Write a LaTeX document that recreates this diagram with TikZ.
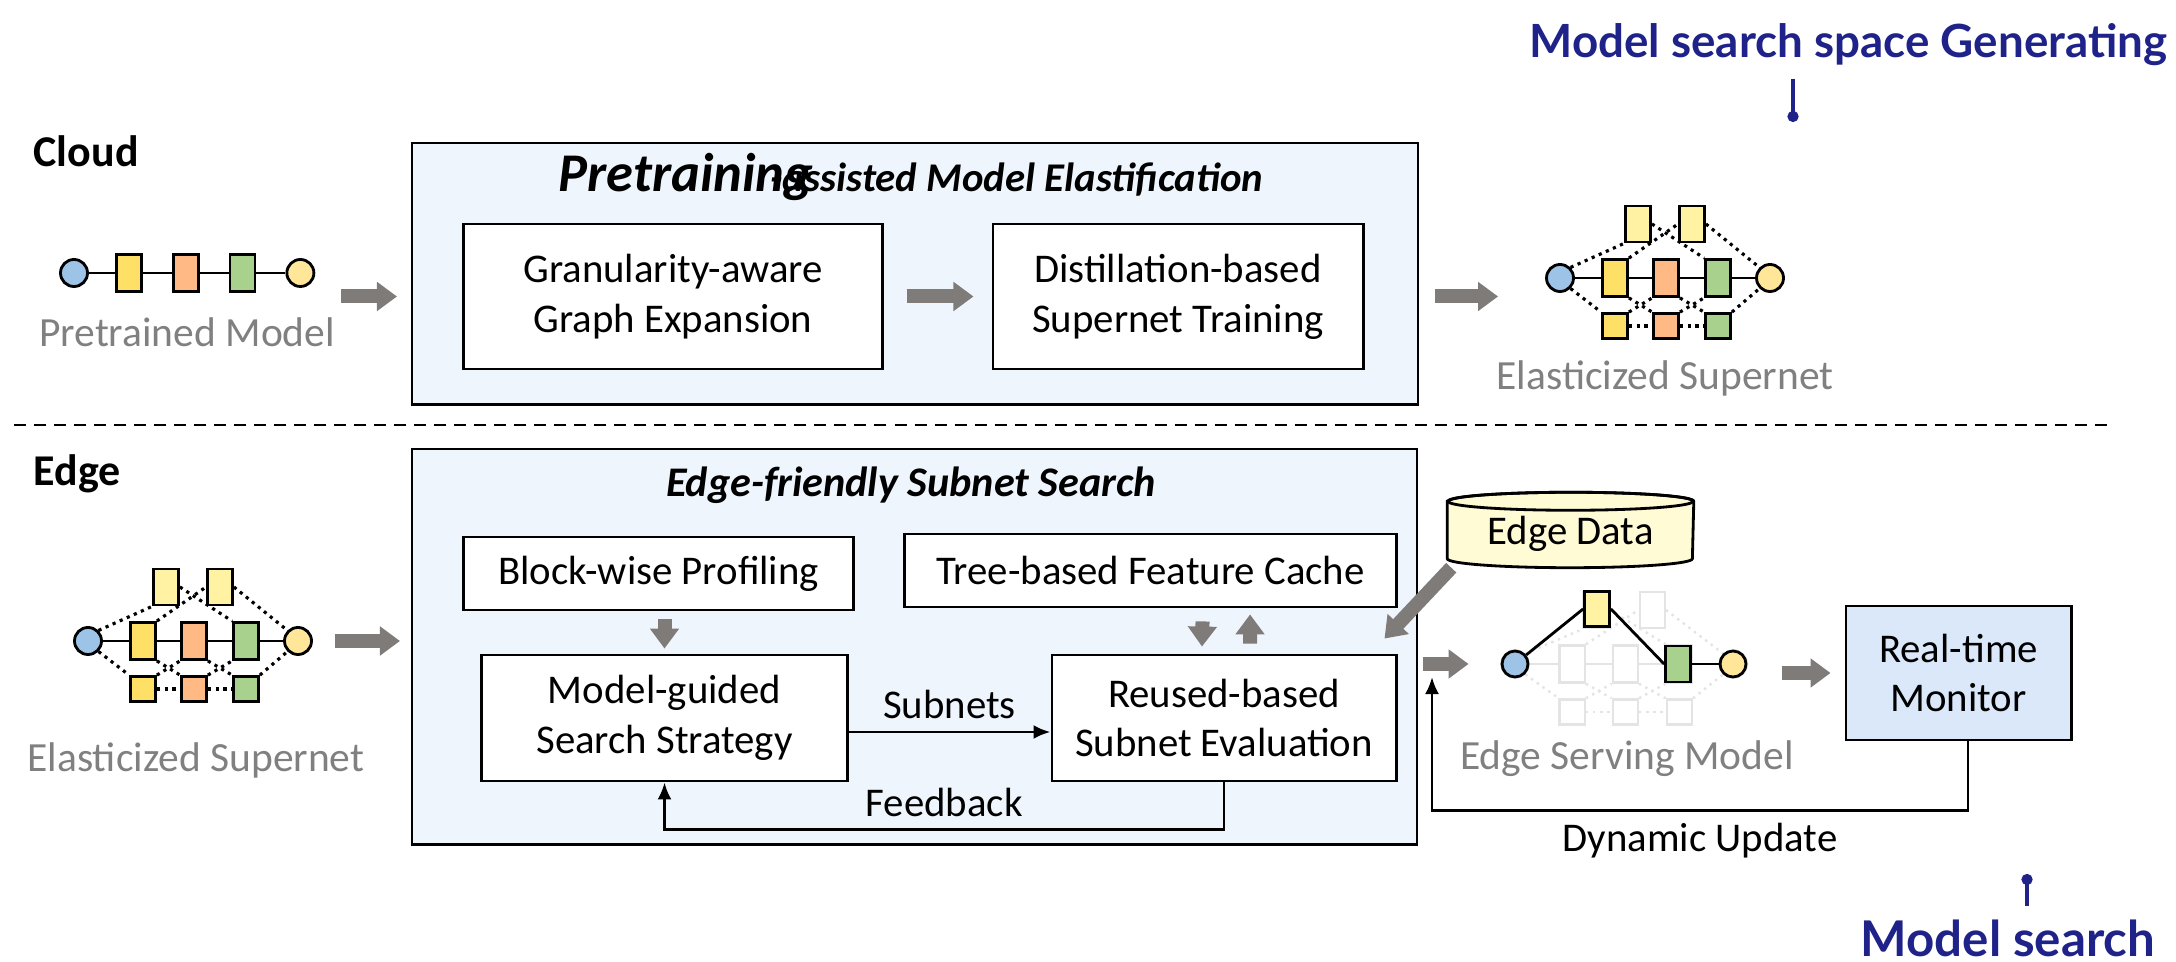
\documentclass[tikz,border=0pt]{standalone}
\usepackage{fontspec}
\setmainfont{Carlito}
\newfontfamily\latofont{Lato}
\usetikzlibrary{arrows.meta, positioning, backgrounds}

\definecolor{boxblue}{HTML}{EEF5FD}
\definecolor{monblue}{HTML}{DAE8FA}
\definecolor{arrgray}{HTML}{7F7B79}
\definecolor{txtgray}{HTML}{808080}
\definecolor{navy}{HTML}{1F2289}
\definecolor{cream}{HTML}{FFFBD5}
\definecolor{nblue}{HTML}{9DC3E6}
\definecolor{nyel}{HTML}{FFE066}
\definecolor{nlyel}{HTML}{FFF2A3}
\definecolor{nora}{HTML}{FFB984}
\definecolor{ngrn}{HTML}{A9D18E}
\definecolor{ncirc}{HTML}{FFE699}
\definecolor{faint}{HTML}{E4E4E4}

\newcommand{\modfont}{\fontsize{11.6}{14.2}\selectfont}
\newcommand{\grayfont}{\fontsize{11.8}{14}\selectfont}
\newcommand{\ttlfont}{\fontsize{12}{14}\selectfont\bfseries\itshape}
\newcommand{\secfont}{\fontsize{12.5}{15}\selectfont\bfseries}
\newcommand{\navyfont}{\fontsize{13}{15}\selectfont\latofont\bfseries}
\newcommand{\navybig}{\fontsize{14}{16}\selectfont\latofont\bfseries}

% supernet: prefix, x, y, extra options
\newcommand{\supnet}[4]{%
  \begin{scope}[shift={(#2,#3)}, #4]
    \node[incirc] (#1in) at (0,0) {};
    \node[yelblk] (#1m1) at (55,0) {};
    \node[orablk] (#1m2) at (106,0) {};
    \node[grnblk] (#1m3) at (158,0) {};
    \node[outcirc] (#1out) at (210,0) {};
    \node[lyelblk] (#1t1) at (78,-54) {};
    \node[lyelblk] (#1t2) at (132,-54) {};
    \node[yelsml] (#1b1) at (55,48) {};
    \node[orasml] (#1b2) at (106,48) {};
    \node[grnsml] (#1b3) at (158,48) {};
    \draw[snline] (#1in) -- (#1m1) -- (#1m2) -- (#1m3) -- (#1out);
    \draw[sndots] (#1in.north east) -- (#1t1.south west);
    \draw[sndots] (#1in.south east) -- (#1b1.north west);
    \draw[sndots] (#1t1.east) -- (#1m3.north west);
    \draw[sndots] (#1m1.north east) -- (#1t2.west);
    \draw[sndots] (#1t2.east) -- (#1out.north west);
    \draw[sndots] (#1m1.south east) -- (#1b2.north west);
    \draw[sndots] (#1b1.north east) -- (#1m2.south west);
    \draw[sndots] (#1m2.south east) -- (#1b3.north west);
    \draw[sndots] (#1b2.north east) -- (#1m3.south west);
    \draw[sndots] (#1b1) -- (#1b2);
    \draw[sndots] (#1b2) -- (#1b3);
    \draw[sndots] (#1b3.north east) -- (#1out.south west);
  \end{scope}}

\begin{document}
\begin{tikzpicture}[x=0.01cm, y=-0.01cm,
    snblk/.style={draw, line width=0.8pt, inner sep=0pt, minimum width=0.25cm, minimum height=0.37cm},
    snsmall/.style={snblk, minimum height=0.25cm},
    yelblk/.style={snblk, fill=nyel},
    orablk/.style={snblk, fill=nora},
    grnblk/.style={snblk, fill=ngrn},
    lyelblk/.style={snblk, fill=nlyel, minimum height=0.36cm},
    yelsml/.style={snsmall, fill=nyel},
    orasml/.style={snsmall, fill=nora},
    grnsml/.style={snsmall, fill=ngrn},
    incirc/.style={circle, draw, line width=0.8pt, inner sep=0pt, minimum size=0.27cm, fill=nblue},
    outcirc/.style={incirc, fill=ncirc},
    snline/.style={line width=0.8pt},
    sndots/.style={line width=0.9pt, dash pattern=on 0.9pt off 1.3pt},
    faintnet/.style={
      snblk/.style={draw=faint, fill=white, line width=0.7pt, inner sep=0pt, minimum width=0.25cm, minimum height=0.37cm},
      snsmall/.style={snblk, minimum height=0.25cm},
      yelblk/.style={snblk}, orablk/.style={snblk}, grnblk/.style={snblk},
      lyelblk/.style={snblk, minimum height=0.36cm},
      yelsml/.style={snsmall}, orasml/.style={snsmall}, grnsml/.style={snsmall},
      incirc/.style={circle, draw=faint, fill=white, line width=0.7pt, inner sep=0pt, minimum size=0.27cm},
      outcirc/.style={incirc},
      snline/.style={draw=faint, line width=0.7pt},
      sndots/.style={draw=faint, line width=0.7pt, dash pattern=on 0.7pt off 1.3pt}},
    outerbox/.style={draw, line width=0.7pt, fill=boxblue, inner sep=0pt, anchor=north west},
    modbox/.style={draw, line width=0.8pt, fill=white, align=center, inner sep=0pt, font=\modfont},
    bigarrow/.style={draw=arrgray, line width=0.14cm, -{Triangle[length=0.2cm, width=0.28cm]}},
    arr/.style={line width=0.8pt, -{Latex[length=0.17cm, width=0.14cm]}},
    graytext/.style={text=txtgray, font=\grayfont, inner sep=0pt, anchor=base},
    titletext/.style={font=\ttlfont, inner sep=0pt},
    secttext/.style={font=\secfont, inner sep=0pt, anchor=base west},
    bluetext/.style={text=navy, font=\navyfont, inner sep=0pt},
    tick/.style={draw=navy, line width=1.1pt, -{Circle[length=0.11cm]}},
    divider/.style={line width=0.7pt, dash pattern=on 0.12cm off 0.08cm}]
    \useasboundingbox (0,0) rectangle (2176,962);

    % stage labels
    \node[bluetext, anchor=base east] (gentext) at (2168,58) {Model search space Generating};
    \coordinate (gentick) at (1793,122);
    \draw[tick] ([yshift=-0.12cm]gentext.south -| gentick) -- (gentick);

    % cloud side
    \node[secttext] (cloud) at (33,167) {Cloud};
    \node[outerbox, minimum width=10.05cm, minimum height=2.61cm] (cloudbox) at (411,142) {};
    \node[titletext, anchor=base west] (cloudtitle) at (558,192) {{\fontsize{15.5}{18}\selectfont Pretraining}\fontsize{11.6}{14}\selectfont\kern-1.05em-assisted Model Elastification};
    \node[modbox, minimum width=4.18cm, minimum height=1.45cm] (gra) at (673,296.5) {Granularity-aware\\Graph Expansion};
    \node[modbox, minimum width=3.70cm, minimum height=1.45cm] (dis) at (1178,296.5) {Distillation-based\\Supernet Training};
    \draw[bigarrow] ([xshift=0.23cm]gra.east) -- ([xshift=-0.18cm]dis.west);

    % pretrained model
    \node[incirc] (pin) at (74,273) {};
    \node[yelblk, right=0.26cm of pin] (p1) {};
    \node[orablk, right=0.29cm of p1] (p2) {};
    \node[grnblk, right=0.29cm of p2] (p3) {};
    \node[outcirc, right=0.29cm of p3] (pout) {};
    \draw[snline] (pin) -- (p1) -- (p2) -- (p3) -- (pout);
    \node[graytext] (ptext) at (187,347) {Pretrained Model};
    \draw[bigarrow] ([xshift=0.26cm]pout.east |- gra.center) -- ([xshift=-0.14cm]cloudbox.west |- gra.center);

    % elasticized supernet (cloud)
    \supnet{s}{1560}{278}{}
    \node[graytext] (stext) at (1665,390) {Elasticized Supernet};
    \draw[bigarrow] ([xshift=0.16cm]cloudbox.east |- gra.center) -- ([xshift=-0.47cm]sin.west |- gra.center);

    \coordinate (divl) at (14,425);
    \coordinate (divr) at (2110,425);
    \draw[divider] (divl) -- (divr);

    % edge side
    \node[secttext] (edge) at (33,486) {Edge};
    \supnet{e}{88}{641}{}
    \node[graytext] (etext) at (196,772) {Elasticized Supernet};
    \node[outerbox, minimum width=10.04cm, minimum height=3.95cm] (edgebox) at (411,448) {};
    \draw[bigarrow] ([xshift=0.22cm]eout.east) -- ([xshift=-0.11cm]edgebox.west |- eout.east);

    \node[titletext, anchor=base] (edgetitle) at (911,497) {Edge-friendly Subnet Search};
    \node[modbox, minimum width=3.89cm, minimum height=0.73cm] (blk) at (658.5,573.5) {Block-wise Profiling};
    \node[modbox, minimum width=4.91cm, minimum height=0.73cm] (tree) at (1150.5,570.5) {Tree-based Feature Cache};
    \node[modbox, minimum width=3.65cm, minimum height=1.26cm] (mgs) at (664.5,718) {Model-guided\\Search Strategy};
    \node[modbox, minimum width=3.44cm, minimum height=1.26cm] (rse) at (1224,718) {Reused-based\\Subnet Evaluation};

    \draw[bigarrow] ([yshift=-0.08cm]blk.south -| mgs.north) -- ([yshift=0.05cm]mgs.north);
    \draw[bigarrow] ([xshift=0.52cm, yshift=-0.13cm]tree.south) -- ([xshift=-0.22cm, yshift=0.07cm]rse.north);
    \draw[bigarrow] ([xshift=0.26cm, yshift=0.10cm]rse.north) -- ([xshift=0.995cm, yshift=-0.06cm]tree.south);
    \draw[arr] ([yshift=-0.14cm]mgs.east) -- node[above, font=\modfont] (subn) {Subnets} ([yshift=-0.14cm]rse.west);
    \draw[arr] (rse.south) -- ++(0,47) -| node[pos=0.25, above, font=\modfont] (fbk) {Feedback} (mgs.south);

    % edge data
    \node[minimum width=2.45cm, minimum height=0.74cm, inner sep=0pt, text height=1.05em, font=\modfont] (edata) at (1570.5,530) {Edge Data};
    \begin{scope}[on background layer]
      \draw[line width=0.8pt, fill=cream] ([yshift=-0.09cm]edata.north west) -- ([yshift=0.09cm]edata.south west)
        arc[start angle=180, end angle=360, x radius=1.225cm, y radius=0.09cm]
        -- ([yshift=-0.09cm]edata.north east)
        arc[start angle=0, end angle=180, x radius=1.225cm, y radius=0.09cm] -- cycle;
      \draw[line width=0.8pt] ([yshift=-0.09cm]edata.north) ellipse[x radius=1.225cm, y radius=0.09cm];
    \end{scope}
    \draw[bigarrow] ([xshift=0.04cm]edata.south west) -- ([xshift=-0.13cm, yshift=0.15cm]rse.north east);

    % edge serving model
    \supnet{f}{1515}{664}{faintnet, xscale=1.04}
    \node[incirc, minimum size=0.26cm] (esin) at (1515,664) {};
    \node[lyelblk, minimum height=0.35cm] (est1) at (1597,609) {};
    \node[grnblk, minimum height=0.36cm] (esm3) at (1678,664) {};
    \node[outcirc, minimum size=0.26cm] (esout) at (1733,664) {};
    \draw[snline] (esin) -- (est1.west);
    \draw[snline] (est1.east) -- (esm3.west);
    \draw[snline] (esm3) -- (esout);
    \node[graytext] (estext) at (1627,770) {Edge Serving Model};
    \draw[bigarrow] ([xshift=0.05cm]edgebox.east |- esin.center) -- ([xshift=-0.32cm]esin.west);

    % monitor
    \node[modbox, fill=monblue, minimum width=2.25cm, minimum height=1.34cm] (mon) at (1958.5,673) {Real-time\\Monitor};
    \draw[bigarrow] ([xshift=0.35cm]esout.east |- mon.west) -- ([xshift=-0.14cm]mon.west);
    \coordinate (dynend) at (1432,677);
    \draw[arr] ([xshift=0.095cm]mon.south) -- ++(0,69) -| node[pos=0.25, below, font=\modfont] (dyn) {Dynamic Update} (dynend);

    \node[bluetext, font=\navybig, anchor=base west] (srch) at (1860,957) {Model search};
    \coordinate (srchtick) at (2027,874);
    \draw[tick] ([yshift=0.14cm]srch.north -| srchtick) -- (srchtick);
\end{tikzpicture}
\end{document}
